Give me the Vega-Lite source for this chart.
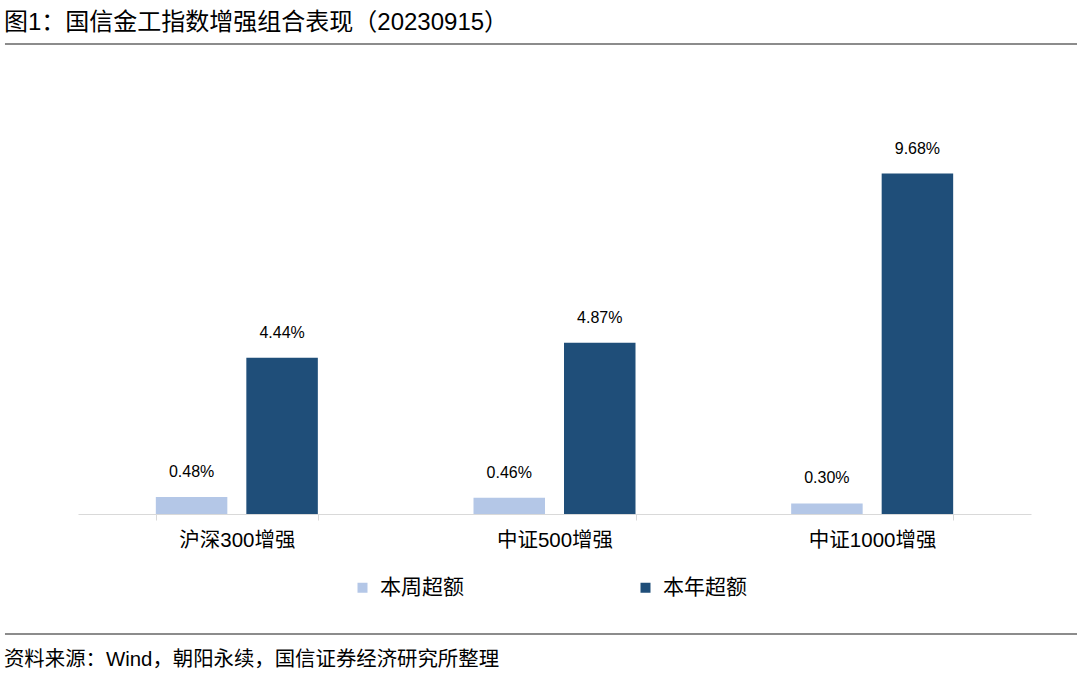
{
  "$schema": "https://vega.github.io/schema/vega-lite/v6.json",
  "background": "white",
  "padding": {"top": 11, "left": 3, "right": 3, "bottom": 5},
  "spacing": 35,
  "config": {
    "view": {"stroke": null},
    "font": "Liberation Sans, Noto Sans CJK SC"
  },
  "resolve": {
    "scale": {"x": "independent", "y": "independent", "color": "independent"},
    "legend": {"color": "independent"}
  },
  "vconcat": [
    {
      "width": 999,
      "height": 13,
      "title": {
        "text": "图1：国信金工指数增强组合表现（20230915）",
        "anchor": "start",
        "frame": "bounds",
        "fontSize": 24,
        "fontWeight": "normal",
        "color": "#000000",
        "offset": 8
      },
      "data": {"values": [{"a": -0.0731, "b": 1, "y": 1}]},
      "mark": {"type": "rule", "color": "#8c8c8c", "strokeWidth": 2, "clip": false},
      "encoding": {
        "x": {"field": "a", "type": "quantitative", "scale": {"domain": [0, 1]}, "axis": null},
        "x2": {"field": "b"},
        "y": {"field": "y", "type": "quantitative", "scale": {"domain": [0, 1]}, "axis": null}
      }
    },
    {
      "width": 953,
      "height": 422,
      "data": {
        "values": [
          {"group": "沪深300增强", "series": "本周超额", "value": 0.0048},
          {"group": "沪深300增强", "series": "本年超额", "value": 0.0444},
          {"group": "中证500增强", "series": "本周超额", "value": 0.0046},
          {"group": "中证500增强", "series": "本年超额", "value": 0.0487},
          {"group": "中证1000增强", "series": "本周超额", "value": 0.0030},
          {"group": "中证1000增强", "series": "本年超额", "value": 0.0968}
        ]
      },
      "encoding": {
        "x": {
          "field": "group",
          "type": "nominal",
          "sort": ["沪深300增强", "中证500增强", "中证1000增强"],
          "scale": {"paddingInner": 0.49, "paddingOuter": 0.245},
          "axis": {
            "title": null,
            "labelAngle": 0,
            "labelFontSize": 20.5,
            "labelColor": "#000000",
            "domainColor": "#d9d9d9",
            "domainWidth": 1,
            "tickColor": "#d9d9d9",
            "tickSize": 6,
            "tickBand": "extent",
            "labelPadding": 10
          }
        },
        "xOffset": {
          "field": "series",
          "type": "nominal",
          "sort": ["本周超额", "本年超额"],
          "scale": {"paddingInner": 0.21, "paddingOuter": 0}
        },
        "y": {
          "field": "value",
          "type": "quantitative",
          "scale": {"domain": [0, 0.12], "nice": false},
          "axis": {
            "title": null,
            "labels": false,
            "ticks": false,
            "domain": false,
            "grid": false,
            "minExtent": 75,
            "maxExtent": 75
          }
        }
      },
      "layer": [
        {
          "mark": {"type": "bar"},
          "encoding": {
            "color": {
              "field": "series",
              "type": "nominal",
              "scale": {"domain": ["本周超额", "本年超额"], "range": ["#B4C7E7", "#1F4E79"]},
              "legend": {
                "title": null,
                "orient": "none",
                "legendX": 274,
                "legendY": 485,
                "direction": "horizontal",
                "symbolType": "square",
                "symbolSize": 100,
                "symbolStrokeWidth": 0,
                "labelFontSize": 21,
                "labelColor": "#000000",
                "labelOffset": 7,
                "columnPadding": 171
              }
            }
          }
        },
        {
          "mark": {"type": "text", "baseline": "alphabetic", "dy": -20, "fontSize": 16, "color": "#000000"},
          "encoding": {
            "text": {"field": "value", "type": "quantitative", "format": ".2%"}
          }
        }
      ]
    },
    {
      "width": 999,
      "height": 10,
      "title": {
        "text": "资料来源：Wind，朝阳永续，国信证券经济研究所整理",
        "orient": "bottom",
        "anchor": "start",
        "frame": "bounds",
        "fontSize": 20.4,
        "fontWeight": "normal",
        "color": "#000000",
        "offset": 6
      },
      "data": {"values": [{"a": -0.0731, "b": 1, "y": 1}]},
      "mark": {"type": "rule", "color": "#8c8c8c", "strokeWidth": 2, "clip": false},
      "encoding": {
        "x": {"field": "a", "type": "quantitative", "scale": {"domain": [0, 1]}, "axis": null},
        "x2": {"field": "b"},
        "y": {"field": "y", "type": "quantitative", "scale": {"domain": [0, 1]}, "axis": null}
      }
    }
  ]
}
